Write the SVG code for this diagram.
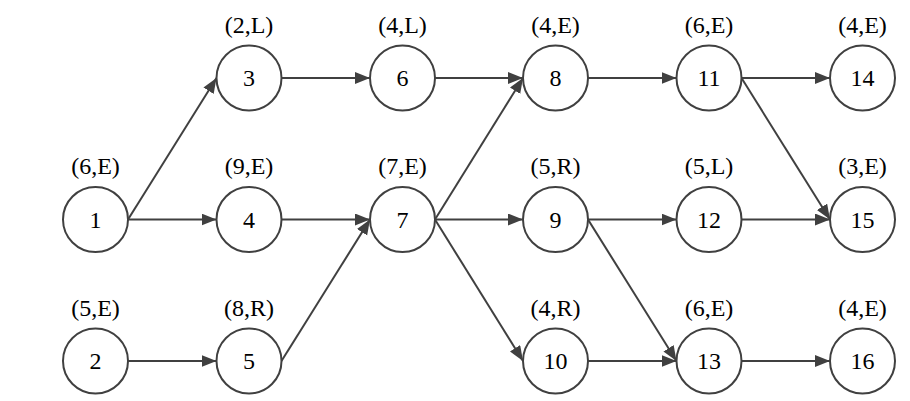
<svg xmlns="http://www.w3.org/2000/svg" width="910" height="401" viewBox="0 0 910 401">
<defs>
<style>
.n circle{fill:#fff;stroke:#404040;stroke-width:2}
text{font-family:"Liberation Serif","Times New Roman",serif;font-size:24px;fill:#000;text-anchor:middle}
.e line{stroke:#404040;stroke-width:2;marker-end:url(#ah)}
</style>
<marker id="ah" markerUnits="userSpaceOnUse" markerWidth="16" markerHeight="13" refX="15" refY="6" orient="auto">
<path d="M0,0 L15,6 L0,12 z" fill="#404040"/>
</marker>
</defs>
<rect width="910" height="401" fill="#fff"/>
<g id="edges" class="e">
<line x1="128" y1="219.5" x2="216.5" y2="78"/>
<line x1="128" y1="219.5" x2="216.5" y2="219.5"/>
<line x1="128" y1="361" x2="216.5" y2="361"/>
<line x1="281.5" y1="78" x2="370" y2="78"/>
<line x1="281.5" y1="219.5" x2="370" y2="219.5"/>
<line x1="281.5" y1="361" x2="370" y2="219.5"/>
<line x1="435" y1="78" x2="523" y2="78"/>
<line x1="435" y1="219.5" x2="523" y2="78"/>
<line x1="435" y1="219.5" x2="523" y2="219.5"/>
<line x1="435" y1="219.5" x2="523" y2="361"/>
<line x1="588" y1="78" x2="676.5" y2="78"/>
<line x1="588" y1="219.5" x2="676.5" y2="219.5"/>
<line x1="588" y1="219.5" x2="676.5" y2="361"/>
<line x1="588" y1="361" x2="676.5" y2="361"/>
<line x1="741.5" y1="78" x2="830" y2="78"/>
<line x1="741.5" y1="78" x2="830" y2="219.5"/>
<line x1="741.5" y1="219.5" x2="830" y2="219.5"/>
<line x1="741.5" y1="361" x2="830" y2="361"/>
</g>
<g id="n1" class="n"><circle cx="95.5" cy="219.5" r="32.5"/><text x="95.5" y="227.5">1</text><text x="95.5" y="174">(6,E)</text></g>
<g id="n2" class="n"><circle cx="95.5" cy="361" r="32.5"/><text x="95.5" y="369">2</text><text x="95.5" y="315.5">(5,E)</text></g>
<g id="n3" class="n"><circle cx="249" cy="78" r="32.5"/><text x="249" y="86">3</text><text x="249" y="32.5">(2,L)</text></g>
<g id="n4" class="n"><circle cx="249" cy="219.5" r="32.5"/><text x="249" y="227.5">4</text><text x="249" y="174">(9,E)</text></g>
<g id="n5" class="n"><circle cx="249" cy="361" r="32.5"/><text x="249" y="369">5</text><text x="249" y="315.5">(8,R)</text></g>
<g id="n6" class="n"><circle cx="402.5" cy="78" r="32.5"/><text x="402.5" y="86">6</text><text x="402.5" y="32.5">(4,L)</text></g>
<g id="n7" class="n"><circle cx="402.5" cy="219.5" r="32.5"/><text x="402.5" y="227.5">7</text><text x="402.5" y="174">(7,E)</text></g>
<g id="n8" class="n"><circle cx="555.5" cy="78" r="32.5"/><text x="555.5" y="86">8</text><text x="555.5" y="32.5">(4,E)</text></g>
<g id="n9" class="n"><circle cx="555.5" cy="219.5" r="32.5"/><text x="555.5" y="227.5">9</text><text x="555.5" y="174">(5,R)</text></g>
<g id="n10" class="n"><circle cx="555.5" cy="361" r="32.5"/><text x="555.5" y="369">10</text><text x="555.5" y="315.5">(4,R)</text></g>
<g id="n11" class="n"><circle cx="709" cy="78" r="32.5"/><text x="709" y="86">11</text><text x="709" y="32.5">(6,E)</text></g>
<g id="n12" class="n"><circle cx="709" cy="219.5" r="32.5"/><text x="709" y="227.5">12</text><text x="709" y="174">(5,L)</text></g>
<g id="n13" class="n"><circle cx="709" cy="361" r="32.5"/><text x="709" y="369">13</text><text x="709" y="315.5">(6,E)</text></g>
<g id="n14" class="n"><circle cx="862.5" cy="78" r="32.5"/><text x="862.5" y="86">14</text><text x="862.5" y="32.5">(4,E)</text></g>
<g id="n15" class="n"><circle cx="862.5" cy="219.5" r="32.5"/><text x="862.5" y="227.5">15</text><text x="862.5" y="174">(3,E)</text></g>
<g id="n16" class="n"><circle cx="862.5" cy="361" r="32.5"/><text x="862.5" y="369">16</text><text x="862.5" y="315.5">(4,E)</text></g>
</svg>
